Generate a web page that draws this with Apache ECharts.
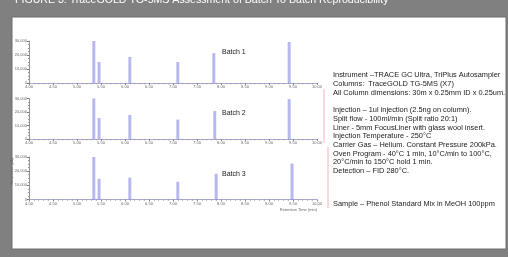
<!DOCTYPE html>
<html>
<head>
<meta charset="utf-8">
<script src="https://cdn.jsdelivr.net/npm/echarts@6/dist/echarts.min.js"></script>
<style>
  html, body { margin: 0; padding: 0; background: #808080; }
  #chart { width: 508px; height: 257px; }
</style>
</head>
<body>
<div id="chart"></div>
<script>
// retention time axis (min)
const rtMin = 4.0, rtMax = 10.0, rtStep = 0.5;
const respTicks = [0, 10000, 20000, 30000];

// peak retention times and heights per batch
const peakTimes1 = [5.35, 5.46, 6.10, 7.10, 7.85, 9.42];
const batch1 = [30000, 15000, 18600, 15000, 21400, 29300];
const peakTimes2 = [5.35, 5.46, 6.10, 7.10, 7.87, 9.42];
const batch2 = [30000, 15500, 17800, 14400, 20700, 29600];
const peakTimes3 = [5.35, 5.46, 6.10, 7.10, 7.90, 9.48];
const batch3 = [30000, 14600, 15400, 12500, 18200, 25400];

const batchNames = ['Batch 1', 'Batch 2', 'Batch 3'];

const title = 'FIGURE 3: TraceGOLD TG-5MS Assessment of Batch To Batch Reproducibility';
const conditions = [
  'Instrument \u2013TRACE GC Ultra, TriPlus Autosampler',
  'Columns:  TraceGOLD TG-5MS (X7)',
  'All Column dimensions: 30m x 0.25mm ID x 0.25um.',
  '',
  'Injection \u2013 1ul injection (2.5ng on column).',
  'Split flow - 100ml/min (Split ratio 20:1)',
  'Liner - 5mm FocusLiner with glass wool insert.',
  'Injection Temperature - 250\u00b0C',
  'Carrier Gas \u2013 Helium. Constant Pressure 200kPa.',
  'Oven Program - 40\u00b0C 1 min, 10\u00b0C/min to 100\u00b0C,',
  '20\u00b0C/min to 150\u00b0C hold 1 min.',
  'Detection \u2013 FID 280\u00b0C.'
];
const sampleText = 'Sample \u2013 Phenol Standard Mix in MeOH 100ppm';

const chart = echarts.init(document.getElementById('chart'));

const grids = [
  { left: 29, top: 41, width: 288, height: 42, outerBoundsMode: 'none' },
  { left: 29, top: 98.5, width: 288, height: 40.5, outerBoundsMode: 'none' },
  { left: 29, top: 157, width: 288, height: 42.5, outerBoundsMode: 'none' }
];

function makeX(i) {
  return {
    type: 'value', gridIndex: i, min: rtMin, max: rtMax, interval: rtStep,
    name: i === 2 ? 'Retention Time (min)' : '',
    nameLocation: 'end', nameGap: 0,
    nameTextStyle: { fontSize: 4, color: '#666', align: 'right', verticalAlign: 'top', padding: [8, 0, 0, 0] },
    axisLine: { lineStyle: { color: '#a8a8d8', width: 1 } },
    axisTick: { length: 2, lineStyle: { color: '#888' } },
    minorTick: { show: true, splitNumber: 5, length: 1.2, lineStyle: { color: '#999' } },
    splitLine: { show: false },
    axisLabel: { fontSize: 4, color: '#666', margin: 2, formatter: v => v.toFixed(2) }
  };
}

function makeY(i) {
  return {
    type: 'value', gridIndex: i, min: respTicks[0], max: respTicks[respTicks.length - 1],
    interval: respTicks[1] - respTicks[0],
    name: i === 2 ? 'Response (pA)' : '',
    nameLocation: 'middle', nameGap: 15, nameRotate: 90, nameMoveOverlap: false,
    nameTextStyle: { fontSize: 4, color: '#666', padding: [0, 0, 0, 14] },
    axisLine: { show: true, lineStyle: { color: '#777', width: 0.8 } },
    axisTick: { show: true, length: 2, lineStyle: { color: '#777' } },
    minorTick: { show: true, splitNumber: 4, length: 1, lineStyle: { color: '#999' } },
    splitLine: { show: false },
    axisLabel: { fontSize: 4, color: '#666', margin: 2 }
  };
}

const times = [peakTimes1, peakTimes2, peakTimes3];
const heights = [batch1, batch2, batch3];

const series = heights.map((h, i) => ({
  type: 'bar', xAxisIndex: i, yAxisIndex: i,
  barWidth: 3,
  itemStyle: { color: 'rgba(125,125,230,0.55)' },
  data: h.map((v, j) => [times[i][j], v])
}));

const font = '"Liberation Sans", Arial, sans-serif';

const graphic = [
  { type: 'rect', shape: { x: 12, y: 17, width: 494, height: 232 },
    style: { fill: '#ffffff', stroke: '#6e6e6e', lineWidth: 1 }, z: -10 },
  { type: 'text', left: 15, top: -5,
    style: { text: title, fill: '#ffffff', font: '10.6px ' + font } },
  { type: 'line', shape: { x1: 324, y1: 89, x2: 324, y2: 143 },
    style: { stroke: '#f3b4b4', lineWidth: 1 } },
  { type: 'line', shape: { x1: 328, y1: 147, x2: 328, y2: 208 },
    style: { stroke: '#f3b4b4', lineWidth: 1 } },
  { type: 'text', left: 333, top: 71,
    style: { text: conditions.join('\n'), fill: '#1a1a1a', lineHeight: 8.7,
      font: '7.4px ' + font } },
  { type: 'text', left: 333, top: 200,
    style: { text: sampleText, fill: '#1a1a1a', font: '7.4px ' + font } }
];

[53, 114, 175].forEach((y, i) => {
  graphic.push({ type: 'text', left: 222, top: y - 4,
    style: { text: batchNames[i], fill: '#1a1a1a', font: '7px ' + font } });
});

chart.setOption({
  animation: false,
  backgroundColor: '#808080',
  grid: grids,
  xAxis: [0, 1, 2].map(makeX),
  yAxis: [0, 1, 2].map(makeY),
  series: series,
  graphic: graphic
});
</script>
</body>
</html>
